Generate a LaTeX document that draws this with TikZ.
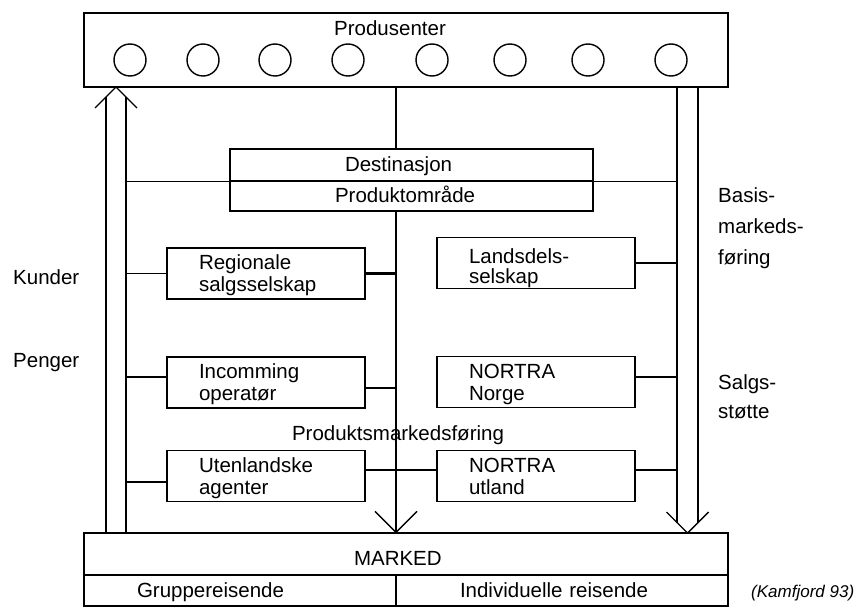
\documentclass[tikz,border=0pt]{standalone}
\usepackage{fontspec}
\setmainfont{Liberation Sans}
\usetikzlibrary{calc}
\tikzset{
  flowline/.style={line width=1.4bp},
  mainline/.style={line width=1.9bp},
  boldlink/.style={line width=2.4bp},
  box/.style={draw, line width=1.4bp, fill=white, inner ysep=0pt},
  boxstrut/.style={execute at begin node={\rule[-4.3bp]{0pt}{21.6bp}}},
  orgbox/.style={box, minimum width=198bp, minimum height=51bp,
    text width=134bp, inner xsep=32bp, align=left,
    execute at begin node={\rule{0pt}{19bp}},
    execute at end node={\rule[-5bp]{0pt}{5bp}}},
  producer/.style={circle, draw, line width=1.4bp, minimum size=32bp, inner sep=0pt},
  txt/.style={inner sep=0pt},
}
\begin{document}
\begin{tikzpicture}[x=1bp, y=-1bp, font=\fontsize{20.5bp}{22bp}\selectfont]
  \useasboundingbox (0,0) rectangle (857,610);

  % Producers
  \node[box, minimum width=644bp, minimum height=74bp] (prod) at (406,50) {};
  \node[txt] (prodlbl) at (390,28.5) {Produsenter};
  \foreach \px [count=\i] in {130,203,275,348,432,510,588,671}
    \node[producer] (p\i) at (\px,60) {};

  % Market
  \node[box, minimum width=644bp, minimum height=42bp, text width=104bp,
    inner xsep=270bp, align=left] (marked) at (406,554) {\rule{0pt}{22bp}MARKED};
  \node[box, boxstrut, minimum width=312bp, minimum height=31bp, text width=206bp,
    inner xsep=53bp, align=left] (grp) at (240,590.5) {Gruppereisende};
  \node[box, boxstrut, minimum width=332bp, minimum height=31bp, text width=204bp,
    inner xsep=64bp, align=left] (ind) at (562,590.5) {Individuelle reisende};

  % Guide points for the long lines
  \coordinate (kl) at (106,0);
  \coordinate (kr) at (126,0);
  \coordinate (ktip) at (116,87);
  \coordinate (bl) at (677,0);
  \coordinate (br) at (698,0);
  \coordinate (btip) at (687.5,533);
  \coordinate (mid) at (396,0);

  % Kunder / Penger, up to the producers
  \draw[flowline] (marked.north -| kl) -- ($(ktip -| kl)+(0,10)$);
  \draw[flowline] (marked.north -| kr) -- ($(ktip -| kr)+(0,10)$);
  \draw[flowline] ($(ktip)+(-21,21)$) -- (ktip) -- ($(ktip)+(21,21)$);

  % Basis-markedsfoering / Salgsstoette, down to the market
  \draw[flowline] (prod.south -| bl) -- ($(btip -| bl)+(0,-10)$);
  \draw[flowline] (prod.south -| br) -- ($(btip -| br)+(0,-10)$);
  \draw[flowline] ($(btip)+(-21,-21)$) -- (btip) -- ($(btip)+(21,-21)$);

  % Destination
  \node[box, boxstrut, minimum width=363bp, minimum height=32bp, text width=133bp,
    inner xsep=115bp, align=left] (dest) at (411.5,165) {Destinasjon};
  \node[box, boxstrut, minimum width=363bp, minimum height=30bp, text width=153bp,
    inner xsep=105bp, align=left] (pomr) at (411.5,196) {Produktområde};
  \draw[mainline] (prod.south -| mid) -- (dest.north -| mid);
  \draw[mainline] (pomr.south -| mid) -- (marked.north -| mid);
  \draw[flowline] ($(marked.north -| mid)+(-21,-21)$) -- (marked.north -| mid)
    -- ($(marked.north -| mid)+(21,-21)$);
  \draw[flowline] (dest.south west) -- (dest.south west -| kr);
  \draw[flowline] (dest.south east) -- (dest.south east -| bl);

  % Sales organisations
  \node[orgbox] (reg) at (266,273.5) {Regionale\\salgsselskap};
  \node[orgbox] (inc) at (266,382.5) {Incomming\\operatør};
  \node[orgbox] (ute) at (266,476) {Utenlandske\\agenter};
  \node[orgbox, font=\fontsize{20.5bp}{19.5bp}\selectfont] (land) at (536,263)
    {\rule{0pt}{26bp}Landsdels-\\selskap};
  \node[orgbox] (nnor) at (536,382) {NORTRA\\Norge};
  \node[orgbox] (nutl) at (536,476) {NORTRA\\utland};

  % Links
  \coordinate (incl) at ([yshift=5.5bp]inc.west);
  \coordinate (incr) at ([yshift=-5.5bp]inc.east);
  \coordinate (utel) at ([yshift=-6bp]ute.west);
  \coordinate (uter) at ([yshift=6bp]ute.east);
  \coordinate (nnorr) at ([yshift=5bp]nnor.east);
  \coordinate (nutll) at ([yshift=6bp]nutl.west);
  \coordinate (nutlr) at ([yshift=6bp]nutl.east);
  \draw[flowline] (reg.west) -- (reg.west -| kr);
  \draw[boldlink] (reg.east) -- (reg.east -| mid);
  \draw[flowline] (incl) -- (incl -| kr);
  \draw[boldlink] (incr) -- (incr -| mid);
  \draw[flowline] (utel) -- (utel -| kr);
  \draw[boldlink] (uter) -- (uter -| mid);
  \draw[flowline] (uter -| mid) -- (nutll);
  \draw[flowline] (land.east) -- (land.east -| bl);
  \draw[flowline] (nnorr) -- (nnorr -| bl);
  \draw[flowline] (nutlr) -- (nutlr -| bl);

  % Labels
  \node[txt, anchor=base] (pmf) at (398,440) {Produktsmarkedsføring};
  \node[txt, anchor=base west] (kunder) at (13,284) {Kunder};
  \node[txt, anchor=base west] (penger) at (13,367) {Penger};
  \node[txt, anchor=north west, align=left, font=\fontsize{20.5bp}{31bp}\selectfont]
    (basis) at (718,187) {Basis-\\markeds-\\føring};
  \node[txt, anchor=north west, align=left, font=\fontsize{20.5bp}{29.5bp}\selectfont]
    (salg) at (718,374) {Salgs-\\støtte};
  \node[txt, anchor=base west, font=\fontsize{17bp}{20bp}\selectfont\itshape]
    (src) at (751,597) {(Kamfjord 93)};
\end{tikzpicture}
\end{document}
